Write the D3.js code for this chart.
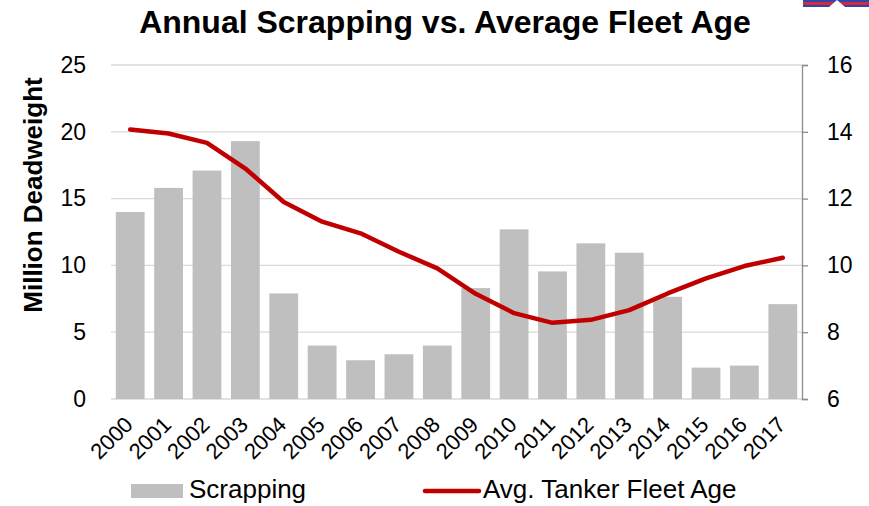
<!DOCTYPE html>
<html>
<head>
<meta charset="utf-8">
<script src="https://cdn.jsdelivr.net/npm/d3@7"></script>
<style>
  body { margin: 0; background: #fff; }
  text { font-family: "Liberation Sans", Arial, sans-serif; fill: #000; }
</style>
</head>
<body>
<div id="chart"></div>
<script>
// data
var years = ["2000", "2001", "2002", "2003", "2004", "2005", "2006", "2007", "2008",
  "2009", "2010", "2011", "2012", "2013", "2014", "2015", "2016", "2017"];
var scrapping = [14.0, 15.8, 17.1, 19.3, 7.9, 4.0, 2.9, 3.35, 4.0,
  8.3, 12.7, 9.55, 11.65, 10.95, 7.65, 2.35, 2.5, 7.1];
var fleetAge = [14.07, 13.95, 13.67, 12.9, 11.9, 11.31, 10.96, 10.41, 9.91,
  9.15, 8.57, 8.28, 8.37, 8.66, 9.16, 9.61, 9.98, 10.23];
var leftTicks = [0, 5, 10, 15, 20, 25];
var rightTicks = [6, 8, 10, 12, 14, 16];

(function () {
  var W = 869, H = 506;
  var margin = { top: 65, left: 111, right: 67, bottom: 107 },
    width = W - margin.left - margin.right,
    height = H - margin.top - margin.bottom;

  var svg = d3.select("#chart")
    .append("svg")
    .attr("width", W)
    .attr("height", H);

  // partial logo cut off at top right
  var logo = svg.append("g");
  logo.append("rect").attr("x", 803).attr("y", 0).attr("width", 66).attr("height", 7).attr("fill", "#2a49a8");
  logo.append("rect").attr("x", 803).attr("y", 2).attr("width", 66).attr("height", 3).attr("fill", "#d8283c");
  logo.append("path").attr("d", "M829,7 L837,0 L845,7 Z").attr("fill", "#fff");

  svg.append("text")
    .attr("x", 445).attr("y", 33)
    .attr("text-anchor", "middle")
    .style("font-size", "32px").style("font-weight", "bold")
    .text("Annual Scrapping vs. Average Fleet Age");

  var g = svg.append("g")
    .attr("transform", "translate(" + margin.left + "," + margin.top + ")");

  var x = d3.scaleBand().domain(years).range([0, width]).paddingInner(0.25).paddingOuter(0.125);
  var yL = d3.scaleLinear().domain([0, 25]).range([height, 0]);
  var yR = d3.scaleLinear().domain([6, 16]).range([height, 0]);

  // gridlines
  g.selectAll(".grid")
    .data(leftTicks)
    .enter().append("line")
    .attr("x1", 0).attr("x2", width)
    .attr("y1", function (d) { return yL(d); })
    .attr("y2", function (d) { return yL(d); })
    .attr("stroke", "#d9d9d9").attr("stroke-width", 1.3);

  // bars
  g.selectAll(".bar")
    .data(scrapping)
    .enter().append("rect")
    .attr("x", function (d, i) { return x(years[i]); })
    .attr("width", x.bandwidth())
    .attr("y", function (d) { return yL(d); })
    .attr("height", function (d) { return height - yL(d); })
    .attr("fill", "#bfbfbf");

  // left axis, labels only
  var axL = g.append("g")
    .call(d3.axisLeft(yL).tickValues(leftTicks).tickSize(0).tickPadding(25));
  axL.select(".domain").remove();
  axL.selectAll("text").style("font-size", "23px");

  // right axis
  var axR = g.append("g")
    .attr("transform", "translate(" + width + ",0)")
    .call(d3.axisRight(yR).tickValues(rightTicks).tickSize(6).tickPadding(19));
  axR.select(".domain").attr("stroke", "#8c8c8c").attr("stroke-width", 1.3);
  axR.selectAll(".tick line").attr("stroke", "#8c8c8c").attr("stroke-width", 1.3);
  axR.selectAll("text").style("font-size", "23px");

  // x axis labels
  var axX = g.append("g")
    .attr("transform", "translate(0," + height + ")")
    .call(d3.axisBottom(x).tickSize(0).tickPadding(0));
  axX.select(".domain").remove();
  axX.selectAll("text")
    .style("font-size", "22px")
    .attr("text-anchor", "end")
    .attr("y", 0)
    .attr("dy", 0)
    .attr("transform", "translate(4,27) rotate(-45)");

  // line
  var line = d3.line()
    .x(function (d, i) { return x(years[i]) + x.bandwidth() / 2; })
    .y(function (d) { return yR(d); });
  g.append("path")
    .datum(fleetAge)
    .attr("d", line)
    .attr("fill", "none")
    .attr("stroke", "#c00000")
    .attr("stroke-width", 4.5)
    .attr("stroke-linecap", "round")
    .attr("stroke-linejoin", "round");

  // y title
  svg.append("text")
    .attr("transform", "translate(42,195) rotate(-90)")
    .attr("text-anchor", "middle")
    .style("font-size", "26px").style("font-weight", "bold")
    .text("Million Deadweight");

  // legend
  var leg = svg.append("g");
  leg.append("rect").attr("x", 131).attr("y", 484).attr("width", 52).attr("height", 14).attr("fill", "#bfbfbf");
  leg.append("text").attr("x", 189).attr("y", 498).style("font-size", "26px").text("Scrapping");
  leg.append("line").attr("x1", 425).attr("x2", 479).attr("y1", 491).attr("y2", 491)
    .attr("stroke", "#c00000").attr("stroke-width", 4.5).attr("stroke-linecap", "round");
  leg.append("text").attr("x", 483).attr("y", 498).style("font-size", "26px").text("Avg. Tanker Fleet Age");
})()
</script>
</body>
</html>
